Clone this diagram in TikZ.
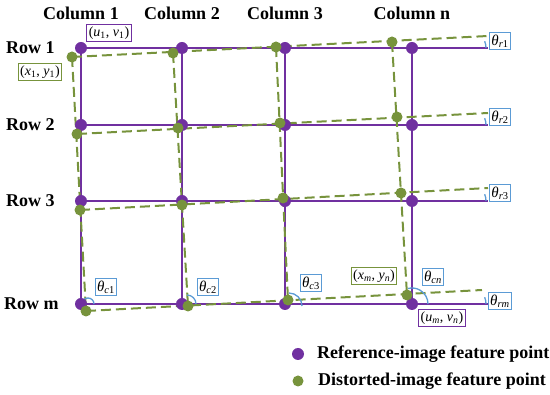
\documentclass[tikz,border=0pt]{standalone}
\usepackage{fontspec}
\setmainfont{Liberation Serif}
\usetikzlibrary{positioning}
\definecolor{refpurple}{HTML}{7030A0}
\definecolor{disgreen}{HTML}{77933C}
\definecolor{angblue}{HTML}{5B9BD5}
\newcommand{\angtxt}[2]{\textit{θ}\textsubscript{\textit{#1}#2}}
\tikzset{
  refpt/.style={circle,fill=refpurple,inner sep=0pt,minimum size=12pt},
  dispt/.style={circle,fill=disgreen,inner sep=0pt,minimum size=11pt},
  refline/.style={draw=refpurple,line width=2pt},
  disline/.style={draw=disgreen,line width=2pt,dash pattern=on 10pt off 5pt},
  headtxt/.style={font=\fontsize{18}{20}\selectfont\bfseries,inner sep=0pt},
  angbox/.style={draw=angblue,line width=1.2pt,inner sep=2pt,font=\fontsize{15}{17}\selectfont,fill=white},
  refbox/.style={draw=refpurple,line width=1.2pt,inner sep=2pt,font=\fontsize{14}{16}\selectfont,fill=white},
  disbox/.style={draw=disgreen,line width=1.2pt,inner sep=2pt,font=\fontsize{14}{16}\selectfont,fill=white},
  angarc/.style={draw=angblue,line width=1.3pt}
}

\begin{document}
\begin{tikzpicture}[x=1pt,y=-1pt]
\useasboundingbox (0,0) rectangle (550,395);

% reference points
\coordinate (P11) at (81,48);
\coordinate (P12) at (182,48);
\coordinate (P13) at (285,48);
\coordinate (P14) at (412,48);
\coordinate (P21) at (81,125);
\coordinate (P22) at (182,125);
\coordinate (P23) at (285,125);
\coordinate (P24) at (412,125);
\coordinate (P31) at (81,201);
\coordinate (P32) at (182,201);
\coordinate (P33) at (285,201);
\coordinate (P34) at (412,201);
\coordinate (P41) at (81,304);
\coordinate (P42) at (182,304);
\coordinate (P43) at (285,304);
\coordinate (P44) at (412,304);
\coordinate (PE1) at (488,48);
\coordinate (PE2) at (488,125);
\coordinate (PE3) at (488,201);
\coordinate (PE4) at (488,304);

% distorted points
\coordinate (D11) at (72,57);
\coordinate (D12) at (173,53);
\coordinate (D13) at (276,47);
\coordinate (D14) at (392,42);
\coordinate (D21) at (77,134);
\coordinate (D22) at (178,128);
\coordinate (D23) at (280,123);
\coordinate (D24) at (397,117);
\coordinate (D31) at (80,210);
\coordinate (D32) at (182,205);
\coordinate (D33) at (283,198);
\coordinate (D34) at (401,193);
\coordinate (D41) at (86,311);
\coordinate (D42) at (188,306);
\coordinate (D43) at (288,300);
\coordinate (D44) at (407,295);
\coordinate (DE1) at (488,36);
\coordinate (DE2) at (488,113);
\coordinate (DE3) at (488,188);
\coordinate (DE4) at (482,290);

% reference grid
\path[refline] (P11) -- (PE1);
\path[refline] (P21) -- (PE2);
\path[refline] (P31) -- (PE3);
\path[refline] (P41) -- (PE4);
\path[refline] (P11) -- (P41);
\path[refline] (P12) -- (P42);
\path[refline] (P13) -- (P43);
\path[refline] (P14) -- (P44);

% distorted grid
\path[disline] (D11) -- (DE1);
\path[disline] (D21) -- (DE2);
\path[disline] (D31) -- (DE3);
\path[disline] (D41) -- (DE4);
\path[disline] (D11) -- (D41);
\path[disline] (D12) -- (D42);
\path[disline] (D13) -- (D43);
\path[disline] (D14) -- (D44);

% angle marks
\draw[angarc] ([xshift=-20pt]PE1) ++(0:18) arc (0:-22:18);
\draw[angarc] ([xshift=-20pt]PE2) ++(0:18) arc (0:-22:18);
\draw[angarc] ([xshift=-20pt]PE3) ++(0:18) arc (0:-22:18);
\draw[angarc] ([xshift=-20pt]PE4) ++(0:18) arc (0:-22:18);
\draw[angarc] ([xshift=7pt]P41) ++(0:6) arc (0:-180:6);
\draw[angarc] ([xshift=5pt]P42) ++(0:9) arc (0:-90:9);
\draw[angarc] ([xshift=4pt,yshift=-2pt]P43) ++(0:13) arc (0:-90:13);
\draw[angarc] (P44) ++(0:16) arc (0:-105:16);

% points
\node[refpt] (R11) at (P11) {};
\node[refpt] (R12) at (P12) {};
\node[refpt] (R13) at (P13) {};
\node[refpt] (R14) at (P14) {};
\node[refpt] (R21) at (P21) {};
\node[refpt] (R22) at (P22) {};
\node[refpt] (R23) at (P23) {};
\node[refpt] (R24) at (P24) {};
\node[refpt] (R31) at (P31) {};
\node[refpt] (R32) at (P32) {};
\node[refpt] (R33) at (P33) {};
\node[refpt] (R34) at (P34) {};
\node[refpt] (R41) at (P41) {};
\node[refpt] (R42) at (P42) {};
\node[refpt] (R43) at (P43) {};
\node[refpt] (R44) at (P44) {};
\node[dispt] (G11) at (D11) {};
\node[dispt] (G12) at (D12) {};
\node[dispt] (G13) at (D13) {};
\node[dispt] (G14) at (D14) {};
\node[dispt] (G21) at (D21) {};
\node[dispt] (G22) at (D22) {};
\node[dispt] (G23) at (D23) {};
\node[dispt] (G24) at (D24) {};
\node[dispt] (G31) at (D31) {};
\node[dispt] (G32) at (D32) {};
\node[dispt] (G33) at (D33) {};
\node[dispt] (G34) at (D34) {};
\node[dispt] (G41) at (D41) {};
\node[dispt] (G42) at (D42) {};
\node[dispt] (G43) at (D43) {};
\node[dispt] (G44) at (D44) {};

% headers
\node[headtxt] (C1) at (81,13) {Column 1};
\node[headtxt] (C2) at (182,13) {Column 2};
\node[headtxt] (C3) at (285,13) {Column 3};
\node[headtxt] (Cn) at (412,13) {Column n};
\node[headtxt,anchor=west] (W1) at (6,48) {Row 1};
\node[headtxt,anchor=west] (W2) at (6,125) {Row 2};
\node[headtxt,anchor=west] (W3) at (6,201) {Row 3};
\node[headtxt,anchor=west] (Wm) at (4,304) {Row m};

% coordinate labels
\node[refbox] (L1) at (109,33) {(\textit{u}\textsubscript{1}, \textit{v}\textsubscript{1})};
\node[disbox] (L2) at (40,72) {(\textit{x}\textsubscript{1}, \textit{y}\textsubscript{1})};
\node[disbox] (L3) at (374,276) {(\textit{x}\textsubscript{\textit{m}}, \textit{y}\textsubscript{\textit{n}})};
\node[refbox] (L4) at (442,318) {(\textit{u}\textsubscript{\textit{m}}, \textit{v}\textsubscript{\textit{n}})};

% angle labels
\node[angbox] (T1) at (500,41) {\angtxt{r}{1}};
\node[angbox] (T2) at (500,117) {\angtxt{r}{2}};
\node[angbox] (T3) at (500,193) {\angtxt{r}{3}};
\node[angbox] (T4) at (500,301) {\angtxt{rm}{}};
\node[angbox] (T5) at (106,287) {\angtxt{c}{1}};
\node[angbox] (T6) at (208,287) {\angtxt{c}{2}};
\node[angbox] (T7) at (311,283) {\angtxt{c}{3}};
\node[angbox] (T8) at (433,277) {\angtxt{cn}{}};

% legend
\node[refpt] (K1) at (298,354) {};
\node[dispt] (K2) at (298,381) {};
\node[headtxt,anchor=west] (K1t) at (317,354) {Reference-image feature point};
\node[headtxt,anchor=west] (K2t) at (318,381) {Distorted-image feature point};
\end{tikzpicture}
\end{document}
